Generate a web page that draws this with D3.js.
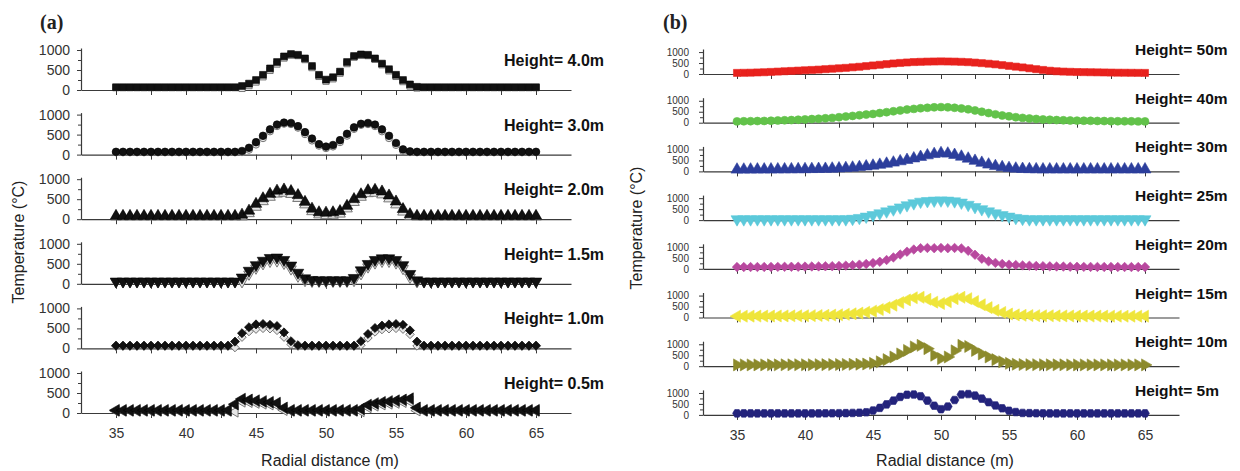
<!DOCTYPE html>
<html>
<head>
<meta charset="utf-8">
<script src="https://cdn.jsdelivr.net/npm/d3@7"></script>
<style>
  body { margin: 0; background: #fff; }
  svg { display: block; }
</style>
</head>
<body>
<svg id="chart" width="1240" height="471"></svg>
<script>
// Radial sampling positions (m), shared by every profile
const radialDistance = [
  35, 35.5, 36, 36.5, 37, 37.5, 38, 38.5, 39, 39.5,
  40, 40.5, 41, 41.5, 42, 42.5, 43, 43.5, 44, 44.5,
  45, 45.5, 46, 46.5, 47, 47.5, 48, 48.5, 49, 49.5,
  50, 50.5, 51, 51.5, 52, 52.5, 53, 53.5, 54, 54.5,
  55, 55.5, 56, 56.5, 57, 57.5, 58, 58.5, 59, 59.5,
  60, 60.5, 61, 61.5, 62, 62.5, 63, 63.5, 64, 64.5,
  65
];
const xTickValues = [35, 37.5, 40, 42.5, 45, 47.5, 50, 52.5, 55, 57.5, 60, 62.5, 65];
const xTickLabels = [35, 40, 45, 50, 55, 60, 65];
const yTickValues = [0, 250, 500, 750, 1000];
const yTickLabels = [0, 500, 1000];

// ---- Panel (a): temperatures (°C) at low heights, two series per height ----
const labelsA = ["Height= 4.0m", "Height= 3.0m", "Height= 2.0m", "Height= 1.5m", "Height= 1.0m", "Height= 0.5m"];

const h40Solid = [
  70, 70, 70, 70, 70, 70, 70, 70, 70, 70,
  70, 70, 70, 70, 70, 70, 70, 70, 100, 160,
  250, 380, 540, 700, 840, 900, 880, 790, 600, 380,
  260, 320, 460, 700, 850, 890, 880, 790, 660, 520,
  380, 250, 140, 80, 70, 70, 70, 70, 70, 70,
  70, 70, 70, 70, 70, 70, 70, 70, 70, 70,
  70
];
const h40Open = [
  60, 60, 60, 60, 60, 60, 60, 60, 60, 60,
  60, 60, 60, 60, 60, 60, 60, 60, 40, 110,
  200, 330, 490, 650, 800, 870, 860, 760, 560, 340,
  220, 280, 420, 660, 820, 870, 860, 770, 630, 480,
  340, 210, 100, 50, 60, 60, 60, 60, 60, 60,
  60, 60, 60, 60, 60, 60, 60, 60, 60, 60,
  60
];
const h30Solid = [
  70, 70, 70, 70, 70, 70, 70, 70, 70, 70,
  70, 70, 70, 70, 70, 70, 70, 70, 90, 170,
  310, 470, 630, 750, 800, 790, 710, 560, 400, 260,
  200, 240, 360, 520, 680, 770, 790, 750, 630, 470,
  290, 130, 80, 70, 70, 70, 70, 70, 70, 70,
  70, 70, 70, 70, 70, 70, 70, 70, 70, 70,
  70
];
const h30Open = [
  55, 55, 55, 55, 55, 55, 55, 55, 55, 55,
  55, 55, 55, 55, 55, 55, 55, 55, 60, 120,
  250, 410, 580, 710, 770, 760, 670, 510, 350, 220,
  160, 200, 310, 470, 640, 740, 760, 710, 580, 410,
  240, 90, 60, 55, 55, 55, 55, 55, 55, 55,
  55, 55, 55, 55, 55, 55, 55, 55, 55, 55,
  55
];
const h20Solid = [
  80, 80, 80, 80, 80, 80, 80, 80, 80, 80,
  80, 80, 80, 80, 80, 80, 80, 80, 110, 210,
  380, 520, 630, 710, 740, 700, 600, 430, 260, 170,
  160, 170, 200, 330, 500, 620, 720, 730, 690, 590,
  440, 250, 120, 80, 80, 80, 80, 80, 80, 80,
  80, 80, 80, 80, 80, 80, 80, 80, 80, 80,
  80
];
const h20Open = [
  60, 60, 60, 60, 60, 60, 60, 60, 60, 60,
  60, 60, 60, 60, 60, 60, 60, 60, 60, 140,
  300, 440, 550, 630, 650, 620, 520, 360, 190, 110,
  90, 100, 130, 260, 420, 550, 640, 650, 610, 510,
  360, 180, 70, 60, 60, 60, 60, 60, 60, 60,
  60, 60, 60, 60, 60, 60, 60, 60, 60, 60,
  60
];
const h15Solid = [
  60, 60, 60, 60, 60, 60, 60, 60, 60, 60,
  60, 60, 60, 60, 60, 60, 60, 60, 160, 330,
  470, 580, 650, 660, 600, 460, 280, 140, 100, 90,
  90, 90, 90, 90, 150, 340, 500, 600, 640, 640,
  600, 470, 250, 90, 60, 60, 60, 60, 60, 60,
  60, 60, 60, 60, 60, 60, 60, 60, 60, 60,
  60
];
const h15Open = [
  50, 50, 50, 50, 50, 50, 50, 50, 50, 50,
  50, 50, 50, 50, 50, 50, 50, 50, 50, 240,
  390, 500, 560, 570, 510, 370, 190, 80, 60, 60,
  60, 60, 60, 60, 80, 250, 420, 520, 560, 560,
  520, 380, 160, 50, 50, 50, 50, 50, 50, 50,
  50, 50, 50, 50, 50, 50, 50, 50, 50, 50,
  50
];
const h10Solid = [
  70, 70, 70, 70, 70, 70, 70, 70, 70, 70,
  70, 70, 70, 70, 70, 70, 70, 170, 380, 530,
  600, 610, 590, 560, 400, 180, 80, 70, 70, 70,
  70, 70, 70, 70, 70, 180, 360, 510, 570, 600,
  610, 590, 450, 170, 70, 70, 70, 70, 70, 70,
  70, 70, 70, 70, 70, 70, 70, 70, 70, 70,
  70
];
const h10Open = [
  55, 55, 55, 55, 55, 55, 55, 55, 55, 55,
  55, 55, 55, 55, 55, 55, 55, 20, 280, 420,
  480, 500, 490, 450, 280, 100, 55, 55, 55, 55,
  55, 55, 55, 55, 55, 80, 260, 410, 470, 490,
  500, 480, 350, 60, 55, 55, 55, 55, 55, 55,
  55, 55, 55, 55, 55, 55, 55, 55, 55, 55,
  55
];
const h05Solid = [
  70, 70, 70, 70, 70, 70, 70, 70, 70, 70,
  70, 70, 70, 70, 70, 70, 70, 220, 350, 330,
  310, 290, 270, 250, 130, 70, 70, 70, 70, 70,
  70, 70, 70, 70, 70, 100, 200, 240, 270, 290,
  310, 330, 360, 130, 70, 70, 70, 70, 70, 70,
  70, 70, 70, 70, 70, 70, 70, 70, 70, 70,
  70
];
const h05Open = [
  50, 50, 50, 50, 50, 50, 50, 50, 50, 50,
  50, 50, 50, 50, 50, 50, 50, 30, 280, 270,
  250, 230, 210, 190, 70, 50, 50, 50, 50, 50,
  50, 50, 50, 50, 50, 40, 140, 180, 210, 230,
  250, 270, 290, 60, 50, 50, 50, 50, 50, 50,
  50, 50, 50, 50, 50, 50, 50, 50, 50, 50,
  50
];

// ---- Panel (b): temperatures (°C) at greater heights ----
const labelsB = ["Height= 50m", "Height= 40m", "Height= 30m", "Height= 25m", "Height= 20m", "Height= 15m", "Height= 10m", "Height= 5m"];
const colorsB = ["#e8211d", "#62c24a", "#2c3e9c", "#5cc9da", "#b8489e", "#efe53a", "#8c8a2c", "#23237c"];

const h50 = [
  50, 55, 60, 70, 80, 95, 110, 125, 140, 155,
  170, 185, 200, 220, 240, 260, 280, 305, 330, 360,
  390, 420, 450, 480, 505, 525, 545, 555, 565, 570,
  575, 570, 565, 555, 540, 520, 495, 470, 440, 405,
  370, 335, 300, 260, 220, 185, 150, 125, 110, 100,
  90, 85, 80, 75, 70, 65, 60, 58, 55, 52,
  50
];
const h40 = [
  60, 65, 70, 75, 80, 90, 100, 110, 120, 135,
  150, 165, 180, 200, 220, 250, 280, 310, 340, 370,
  400, 440, 480, 520, 560, 600, 630, 660, 680, 700,
  710, 700, 680, 650, 610, 560, 500, 440, 380, 330,
  290, 250, 220, 190, 170, 150, 135, 120, 110, 100,
  95, 90, 85, 80, 75, 70, 68, 65, 62, 60,
  60
];
const h30 = [
  80, 80, 82, 84, 86, 88, 90, 92, 95, 97,
  100, 105, 110, 115, 125, 135, 150, 170, 195, 225,
  260, 300, 350, 400, 460, 520, 590, 660, 730, 790,
  830, 810, 750, 670, 580, 480, 390, 310, 240, 190,
  150, 125, 110, 100, 95, 90, 90, 90, 90, 90,
  90, 90, 90, 90, 90, 90, 90, 90, 90, 90,
  90
];
const h25 = [
  40, 40, 40, 40, 40, 40, 40, 40, 40, 40,
  40, 40, 40, 40, 40, 40, 40, 60, 100, 160,
  230, 310, 400, 490, 580, 680, 770, 840, 870, 890,
  900, 890, 860, 800, 700, 600, 500, 400, 310, 230,
  160, 100, 60, 40, 40, 40, 40, 40, 40, 40,
  40, 40, 40, 40, 40, 40, 40, 40, 40, 40,
  40
];
const h20 = [
  80, 80, 80, 82, 84, 86, 88, 90, 92, 95,
  100, 105, 110, 115, 120, 130, 145, 165, 190, 220,
  260, 320, 400, 520, 650, 780, 880, 940, 950, 940,
  950, 940, 950, 930, 820, 640, 460, 340, 270, 220,
  190, 170, 155, 140, 130, 120, 112, 105, 100, 95,
  90, 88, 86, 85, 84, 83, 82, 81, 80, 80,
  80
];
const h15 = [
  60, 60, 62, 64, 66, 68, 70, 72, 75, 78,
  80, 85, 90, 100, 110, 125, 145, 170, 200, 240,
  290, 360, 450, 560, 680, 800, 900, 920, 830, 700,
  640, 720, 860, 920, 860, 730, 580, 450, 330, 230,
  160, 120, 100, 90, 85, 80, 78, 75, 72, 70,
  68, 66, 65, 64, 63, 62, 61, 60, 60, 60,
  60
];
const h10 = [
  60, 60, 60, 60, 60, 62, 62, 64, 64, 66,
  66, 68, 70, 72, 75, 78, 82, 86, 92, 100,
  130, 200, 300, 420, 560, 720, 880, 950, 800, 500,
  350, 420, 700, 950, 900, 720, 560, 420, 300, 200,
  130, 90, 75, 70, 68, 66, 64, 62, 62, 60,
  60, 60, 60, 60, 60, 60, 60, 60, 60, 60,
  60
];
const h5 = [
  70, 70, 70, 70, 70, 70, 70, 70, 70, 70,
  70, 70, 70, 72, 74, 76, 80, 90, 100, 120,
  200, 320, 480, 650, 820, 920, 930, 850, 650, 420,
  260, 380, 680, 930, 950, 880, 740, 580, 430, 300,
  190, 130, 90, 80, 75, 72, 70, 70, 70, 70,
  70, 70, 70, 70, 70, 70, 70, 70, 70, 70,
  70
];

// ---- marker shapes (Origin-style symbol sequence) ----
const hexagon = {
  draw(ctx, size) {
    const r = Math.sqrt(size / (1.5 * Math.sqrt(3)));
    for (let k = 0; k < 6; k++) {
      const a = Math.PI / 3 * k;
      const px = r * Math.cos(a), py = r * Math.sin(a);
      if (k === 0) ctx.moveTo(px, py); else ctx.lineTo(px, py);
    }
    ctx.closePath();
  }
};
const shapes = {
  square:   { type: d3.symbolSquare,   rot: 0,   k: 1.0 },
  circle:   { type: d3.symbolCircle,   rot: 0,   k: 1.0 },
  up:       { type: d3.symbolTriangle, rot: 0,   k: 1.25 },
  down:     { type: d3.symbolTriangle, rot: 180, k: 1.25 },
  diamond:  { type: d3.symbolSquare,   rot: 45,  k: 0.9 },
  left:     { type: d3.symbolTriangle, rot: -90, k: 1.25 },
  right:    { type: d3.symbolTriangle, rot: 90,  k: 1.25 },
  hexagon:  { type: hexagon,           rot: 0,   k: 1.0 }
};

const rowsA = [
  { label: labelsA[0], solid: h40Solid, open: h40Open, shape: "square" },
  { label: labelsA[1], solid: h30Solid, open: h30Open, shape: "circle" },
  { label: labelsA[2], solid: h20Solid, open: h20Open, shape: "up" },
  { label: labelsA[3], solid: h15Solid, open: h15Open, shape: "down" },
  { label: labelsA[4], solid: h10Solid, open: h10Open, shape: "diamond" },
  { label: labelsA[5], solid: h05Solid, open: h05Open, shape: "left" }
];
const rowsB = [
  { label: labelsB[0], values: h50, color: colorsB[0], shape: "square" },
  { label: labelsB[1], values: h40, color: colorsB[1], shape: "circle" },
  { label: labelsB[2], values: h30, color: colorsB[2], shape: "up" },
  { label: labelsB[3], values: h25, color: colorsB[3], shape: "down" },
  { label: labelsB[4], values: h20, color: colorsB[4], shape: "diamond" },
  { label: labelsB[5], values: h15, color: colorsB[5], shape: "left" },
  { label: labelsB[6], values: h10, color: colorsB[6], shape: "right" },
  { label: labelsB[7], values: h5,  color: colorsB[7], shape: "hexagon" }
];

const svg = d3.select("#chart");
const sans = "'Liberation Sans', Arial, sans-serif";
const axisColor = "#3a3a3a";

function drawMarkers(g, x, y, values, shapeKey, size, fill, stroke, sw) {
  const s = shapes[shapeKey];
  const gen = d3.symbol().type(s.type).size(size * s.k);
  g.selectAll(null)
    .data(values.map((v, i) => ({ x: radialDistance[i], v })))
    .join("path")
    .attr("d", gen)
    .attr("transform", d => `translate(${x(d.x)},${y(d.v)}) rotate(${s.rot})`)
    .attr("fill", fill)
    .attr("stroke", stroke)
    .attr("stroke-width", sw);
}

function styleAxis(g, fontSize) {
  g.select(".domain").attr("stroke", axisColor).attr("stroke-width", 1.2);
  g.selectAll(".tick line").attr("stroke", axisColor).attr("stroke-width", 1);
  g.selectAll(".tick text").attr("fill", "#333").style("font-family", sans).style("font-size", fontSize + "px");
}

function drawPanel(p) {
  const x = d3.scaleLinear().domain([32.5, 67.5]).range(p.xRange);
  p.rows.forEach((row, i) => {
    const zero = p.zeroTop + i * p.rowStep;
    const y = d3.scaleLinear().domain([0, p.yTop]).range([zero, zero - p.yTopPx]);
    const g = svg.append("g");
    const last = i === p.rows.length - 1;

    // x axis
    const xa = g.append("g").attr("transform", `translate(0,${zero})`)
      .call(d3.axisBottom(x).tickValues(xTickValues).tickSize(5).tickSizeOuter(0)
        .tickPadding(p.xPad)
        .tickFormat(d => (last && xTickLabels.includes(d)) ? d : ""));
    styleAxis(xa, 14);

    // y axis
    const ya = g.append("g").attr("transform", `translate(${p.xRange[0]},0)`)
      .call(d3.axisLeft(y).tickValues(yTickValues).tickSize(4).tickSizeOuter(0)
        .tickPadding(p.yPad)
        .tickFormat(d => yTickLabels.includes(d) ? d : ""));
    styleAxis(ya, p.yFont);
    ya.selectAll(".tick line").attr("x2", d => (d % 500 === 0 ? -4 : -3));

    // markers: open series underneath, filled series on top
    const mg = g.append("g");
    if (p.kind === "a") {
      drawMarkers(mg, x, y, row.open, row.shape, p.mSize * 0.85, "#e6e6e6", "#6a6a6a", 0.9);
      drawMarkers(mg, x, y, row.solid, row.shape, p.mSize, "#111", "#000", 0.6);
    } else {
      drawMarkers(mg, x, y, row.values, row.shape, p.mSize, row.color, row.color, 0.6);
    }

    // height label
    g.append("text")
      .attr("x", p.labelX).attr("y", zero - p.labelDy)
      .style("font-family", sans).style("font-weight", "bold")
      .style("font-size", p.labelFont + "px").attr("fill", "#111")
      .text(row.label);
  });

  // panel letter
  svg.append("text").attr("x", p.letterX).attr("y", 29)
    .style("font-family", "'Liberation Serif', 'Times New Roman', serif")
    .style("font-weight", "bold").style("font-size", "20px").attr("fill", "#222")
    .text(p.letter);

  // axis titles
  svg.append("text")
    .attr("transform", `translate(${p.yTitleX},${p.yTitleY}) rotate(-90)`)
    .attr("text-anchor", "middle")
    .style("font-family", sans).style("font-size", "16px").attr("fill", "#222")
    .text("Temperature (°C)");
  svg.append("text")
    .attr("x", p.xTitleX).attr("y", 466).attr("text-anchor", "middle")
    .style("font-family", sans).style("font-size", "16px").attr("fill", "#222")
    .text("Radial distance (m)");
}

drawPanel({
  kind: "a", rows: rowsA, letter: "(a)", letterX: 40,
  xRange: [81, 571], zeroTop: 90, rowStep: 64.6,
  yTop: 1050, yTopPx: 42, yFont: 14, xPad: 10, yPad: 7,
  mSize: 46, labelX: 504, labelDy: 24, labelFont: 16,
  yTitleX: 24, yTitleY: 242, xTitleX: 330
});
drawPanel({
  kind: "b", rows: rowsB, letter: "(b)", letterX: 663,
  xRange: [703, 1179], zeroTop: 74, rowStep: 48.7,
  yTop: 1140, yTopPx: 25, yFont: 10, xPad: 10, yPad: 10,
  mSize: 50, labelX: 1135, labelDy: 19, labelFont: 15.5,
  yTitleX: 642, yTitleY: 228, xTitleX: 945
});
</script>
</body>
</html>
